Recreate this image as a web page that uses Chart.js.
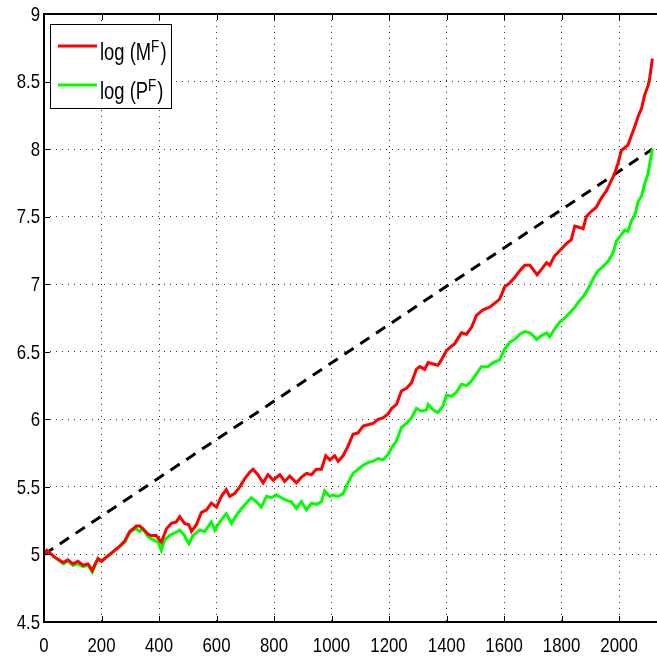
<!DOCTYPE html>
<html>
<head>
<meta charset="utf-8">
<script src="https://cdn.jsdelivr.net/npm/chart.js@4.4.1/dist/chart.umd.min.js"></script>
<style>
  html, body { margin: 0; padding: 0; background: #fff; }
  #c { display: block; }
</style>
</head>
<body>
<canvas id="c" width="657" height="658"></canvas>
<script>
// values
const redX = [0,10,37,67,83,101,118,136,153,168,176,188,200,217,234,246,263,281,298,310,321,333,344,362,373,390,408,426,443,460,472,489,504,513,530,547,565,582,600,617,634,646,663,681,698,716,727,744,762,779,797,820,837,855,878,895,913,930,947,965,980,994,1011,1023,1040,1057,1075,1092,1110,1127,1145,1162,1179,1197,1209,1226,1243,1261,1278,1295,1307,1324,1336,1353,1370,1382,1400,1428,1452,1469,1487,1504,1527,1550,1568,1585,1602,1620,1637,1655,1672,1690,1701,1715,1730,1748,1759,1776,1794,1817,1834,1846,1863,1875,1886,1904,1921,1939,1956,1974,1985,1997,2008,2020,2031,2043,2055,2066,2078,2089,2101,2107,2116];
const redY = [5.00,5.03,4.98,4.94,4.96,4.93,4.95,4.92,4.93,4.88,4.92,4.97,4.95,4.98,5.01,5.03,5.06,5.10,5.17,5.19,5.21,5.21,5.19,5.15,5.14,5.14,5.09,5.19,5.23,5.24,5.28,5.23,5.22,5.17,5.22,5.31,5.33,5.38,5.35,5.43,5.48,5.43,5.45,5.50,5.56,5.61,5.63,5.59,5.53,5.59,5.55,5.59,5.54,5.58,5.53,5.57,5.60,5.59,5.63,5.63,5.73,5.70,5.73,5.69,5.73,5.80,5.89,5.90,5.95,5.96,5.97,6.00,6.01,6.04,6.08,6.11,6.21,6.23,6.27,6.37,6.39,6.37,6.42,6.41,6.40,6.44,6.51,6.56,6.64,6.63,6.68,6.77,6.81,6.83,6.86,6.89,6.98,7.01,7.05,7.10,7.14,7.14,7.11,7.07,7.11,7.16,7.14,7.21,7.25,7.30,7.33,7.43,7.42,7.41,7.50,7.54,7.57,7.64,7.69,7.77,7.82,7.90,7.99,8.01,8.03,8.10,8.17,8.24,8.30,8.40,8.47,8.53,8.67];

const greenX = [0,10,37,67,83,101,118,136,153,168,176,188,200,217,234,246,263,281,298,310,321,333,344,362,379,397,408,420,437,455,472,489,495,504,518,542,559,582,594,611,634,652,669,687,704,721,739,756,774,791,808,826,843,860,878,895,913,930,947,965,976,994,1005,1023,1040,1057,1075,1092,1110,1127,1145,1162,1179,1197,1209,1226,1243,1261,1278,1295,1313,1330,1336,1353,1370,1388,1400,1417,1434,1452,1469,1481,1492,1521,1544,1562,1585,1602,1620,1637,1655,1672,1690,1701,1713,1730,1748,1759,1776,1794,1811,1829,1846,1863,1880,1893,1910,1927,1944,1962,1979,1991,2002,2020,2031,2043,2055,2066,2078,2089,2101,2109,2116];
const greenY = [5.00,5.03,4.98,4.93,4.95,4.92,4.93,4.91,4.92,4.87,4.91,4.97,4.95,4.98,5.01,5.03,5.06,5.09,5.16,5.18,5.19,5.17,5.19,5.13,5.11,5.09,5.03,5.11,5.14,5.16,5.18,5.14,5.11,5.08,5.14,5.18,5.17,5.24,5.18,5.24,5.30,5.23,5.29,5.34,5.38,5.42,5.39,5.35,5.43,5.42,5.44,5.42,5.40,5.39,5.34,5.39,5.33,5.38,5.37,5.39,5.47,5.43,5.44,5.43,5.45,5.53,5.60,5.63,5.66,5.68,5.69,5.71,5.70,5.74,5.79,5.84,5.94,5.97,6.01,6.08,6.06,6.07,6.11,6.07,6.05,6.10,6.18,6.17,6.20,6.26,6.25,6.27,6.30,6.39,6.39,6.42,6.44,6.52,6.57,6.59,6.63,6.65,6.64,6.62,6.59,6.62,6.64,6.61,6.67,6.72,6.75,6.79,6.83,6.88,6.92,6.97,7.04,7.10,7.13,7.17,7.23,7.32,7.35,7.40,7.39,7.47,7.51,7.61,7.65,7.74,7.82,7.92,8.00];

// dashed reference line: start and end of log(P^F)
const dashX = [0, 2116];
const dashY = [5, 8];

const xTicks = [0,200,400,600,800,1000,1200,1400,1600,1800,2000];
const yTicks = [4.5,5,5.5,6,6.5,7,7.5,8,8.5,9];

const legendItems = [
    { base: 'log (M', sup: 'F', color: '#ff0000' },
    { base: 'log (P', sup: 'F', color: '#00ff00' }
];

const FONT = "'Liberation Sans', Arial, sans-serif";
const SQUEEZE = 0.8;   // matlab export looks horizontally condensed

function toPoints(xs, ys) {
    return xs.map((x, i) => ({ x: x, y: ys[i] }));
}

function narrowText(ctx, text, x, y, align, baseline, size) {
    ctx.save();
    ctx.translate(x, y);
    ctx.scale(SQUEEZE, 1);
    ctx.font = size + 'px ' + FONT;
    ctx.textAlign = align;
    ctx.textBaseline = baseline;
    ctx.fillText(text, 0, 0);
    const w = ctx.measureText(text).width * SQUEEZE;
    ctx.restore();
    return w;
}

// frame, inward ticks, tick labels and the legend, matlab style
const matlabFrame = {
    id: 'matlabFrame',
    afterDraw(chart) {
        const ctx = chart.ctx;
        const area = chart.chartArea;
        const xs = chart.scales.x, ys = chart.scales.y;
        ctx.save();
        ctx.strokeStyle = '#000';
        ctx.lineWidth = 1;
        ctx.beginPath();
        xTicks.forEach(v => {
            const px = Math.round(xs.getPixelForValue(v)) + 0.5;
            ctx.moveTo(px, area.bottom); ctx.lineTo(px, area.bottom - 6);
            ctx.moveTo(px, area.top); ctx.lineTo(px, area.top + 6);
        });
        yTicks.forEach(v => {
            const py = Math.round(ys.getPixelForValue(v)) + 0.5;
            ctx.moveTo(area.left, py); ctx.lineTo(area.left + 6, py);
        });
        ctx.stroke();

        ctx.lineWidth = 2;
        ctx.beginPath();
        ctx.moveTo(area.right, area.top);
        ctx.lineTo(area.left, area.top);
        ctx.lineTo(area.left, area.bottom);
        ctx.lineTo(area.right, area.bottom);
        ctx.stroke();

        ctx.fillStyle = '#000';
        xTicks.forEach(v => {
            narrowText(ctx, String(v), xs.getPixelForValue(v), area.bottom + 14, 'center', 'top', 21);
        });
        yTicks.forEach(v => {
            narrowText(ctx, String(v), area.left - 4, ys.getPixelForValue(v) + 1, 'right', 'middle', 21);
        });

        // legend box
        const bx = 50, by = 24, bw = 121, bh = 84;
        ctx.fillStyle = '#fff';
        ctx.fillRect(bx, by, bw, bh);
        ctx.strokeStyle = '#000';
        ctx.lineWidth = 1;
        ctx.strokeRect(bx + 0.5, by + 0.5, bw, bh);
        legendItems.forEach((item, i) => {
            const ly = 46 + i * 39;
            ctx.strokeStyle = item.color;
            ctx.lineWidth = 3;
            ctx.beginPath();
            ctx.moveTo(58, ly); ctx.lineTo(97, ly);
            ctx.stroke();
            ctx.fillStyle = '#000';
            const baseY = ly + 14;
            let x = 100;
            x += narrowText(ctx, item.base, x, baseY, 'left', 'alphabetic', 23);
            x += narrowText(ctx, item.sup, x, baseY - 8, 'left', 'alphabetic', 17);
            narrowText(ctx, ')', x + 1, baseY, 'left', 'alphabetic', 23);
        });
        ctx.restore();
    }
};

new Chart(document.getElementById('c'), {
    type: 'line',
    data: {
        datasets: [{
            label: 'log (M^F)',
            data: toPoints(redX, redY),
            borderColor: '#ff0000',
            borderWidth: 3,
            pointRadius: 0,
            fill: false
        }, {
            label: 'log (P^F)',
            data: toPoints(greenX, greenY),
            borderColor: '#00ff00',
            borderWidth: 3,
            pointRadius: 0,
            fill: false
        }, {
            label: 'trend',
            data: toPoints(dashX, dashY),
            borderColor: '#000',
            borderWidth: 3,
            borderDash: [11, 8],
            pointRadius: 0,
            fill: false
        }]
    },
    options: {
        responsive: false,
        animation: false,
        layout: { padding: { top: 14, right: 0, left: 0, bottom: 0 } },
        plugins: { legend: { display: false }, tooltip: { enabled: false } },
        scales: {
            x: {
                type: 'linear',
                min: 0,
                max: 2132,
                afterBuildTicks: s => { s.ticks = xTicks.map(v => ({ value: v })); },
                afterFit: s => { s.height = 36; },
                ticks: { display: false },
                grid: { color: '#333', lineWidth: 1, drawTicks: false },
                border: { display: false, dash: [1, 5] }
            },
            y: {
                min: 4.5,
                max: 9,
                afterBuildTicks: s => { s.ticks = yTicks.map(v => ({ value: v })); },
                afterFit: s => { s.width = 44; },
                ticks: { display: false },
                grid: { color: '#333', lineWidth: 1, drawTicks: false },
                border: { display: false, dash: [1, 5] }
            }
        }
    },
    plugins: [matlabFrame]
});
</script>
</body>
</html>
